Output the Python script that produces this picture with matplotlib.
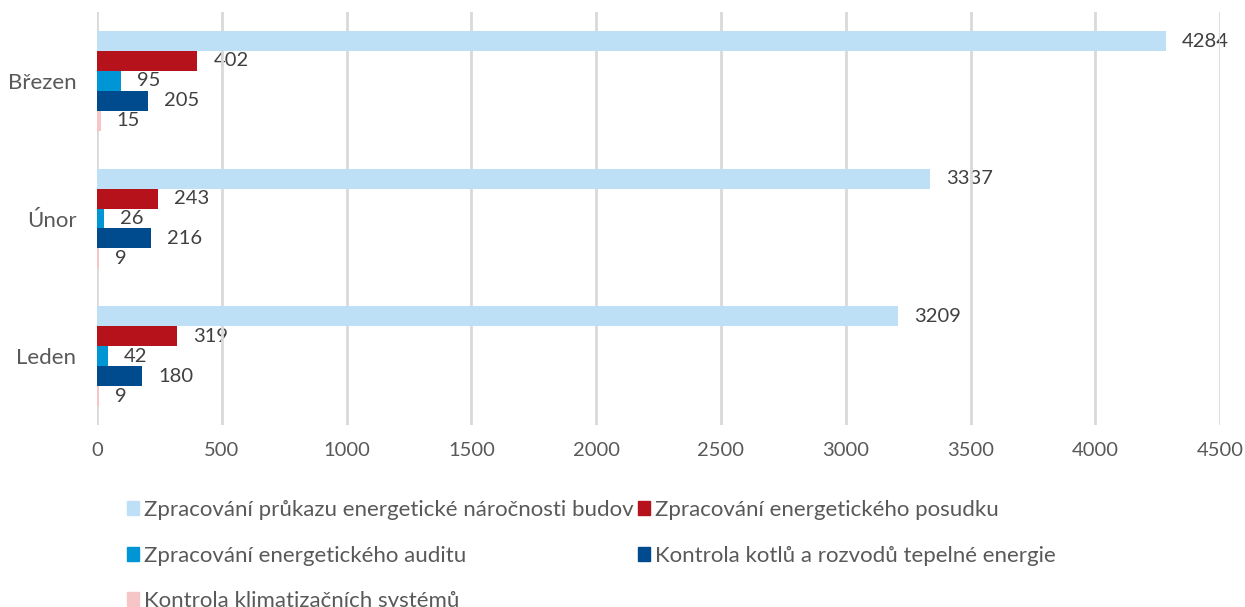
import matplotlib.pyplot as plt
import numpy as np
from matplotlib.patches import Patch

plt.rcParams['font.family'] = ['Lato', 'DejaVu Sans']

months = ['Leden', 'Únor', 'Březen']
series = ['Zpracování průkazu energetické náročnosti budov',
          'Zpracování energetického posudku',
          'Zpracování energetického auditu',
          'Kontrola kotlů a rozvodů tepelné energie',
          'Kontrola klimatizačních systémů']
prukaz = [3209, 3337, 4284]
posudek = [319, 243, 402]
audit = [42, 26, 95]
kotle = [180, 216, 205]
klima = [9, 9, 15]
colors = ['#bde0f6', '#b5121b', '#0096d6', '#004b8d', '#f6c5c6']

values = [prukaz, posudek, audit, kotle, klima]

fig = plt.figure(figsize=(12.45, 6.07), dpi=100)
ax = fig.add_axes([0.078, 0.30, 0.902, 0.68])

y = np.arange(len(months))
h = 0.145
for i, vals in enumerate(values):
    pos = y + (2 - i) * h
    ax.barh(pos, vals, height=h, color=colors[i], label=series[i], zorder=2)
    for p, v in zip(pos, vals):
        # labels sit under the gridlines
        ax.annotate(str(v), (v, p), xytext=(11.5, 0), textcoords='offset points',
                    va='center', ha='left', fontsize=14.5, color='#404040', zorder=1)

ax.set_xlim(0, 4500)
ax.set_ylim(-0.5, 2.5)
ax.set_xticks(np.arange(0, 4501, 500))
ax.set_yticks(y)
ax.set_yticklabels(months)
ax.tick_params(length=0, labelsize=14.5, labelcolor='#595959', pad=12)
ax.tick_params(axis='y', labelsize=16, pad=15)
ax.xaxis.grid(True, color='#d9d9d9', linewidth=2)
for s in ax.spines.values():
    s.set_visible(False)

# legend is filled row by row: reorder for matplotlib's column-wise layout
order = [0, 2, 4, 1, 3]
handles = [Patch(color=colors[k]) for k in order]
labels = [series[k] for k in order]
fig.legend(handles, labels, ncol=2, loc='upper left', bbox_to_anchor=(0.095, 0.191),
           frameon=False, fontsize=16, labelcolor='#595959',
           handlelength=0.55, handleheight=0.6, handletextpad=0.2,
           labelspacing=1.15, columnspacing=0.2, borderaxespad=0)

plt.savefig('out.png', dpi=100)
